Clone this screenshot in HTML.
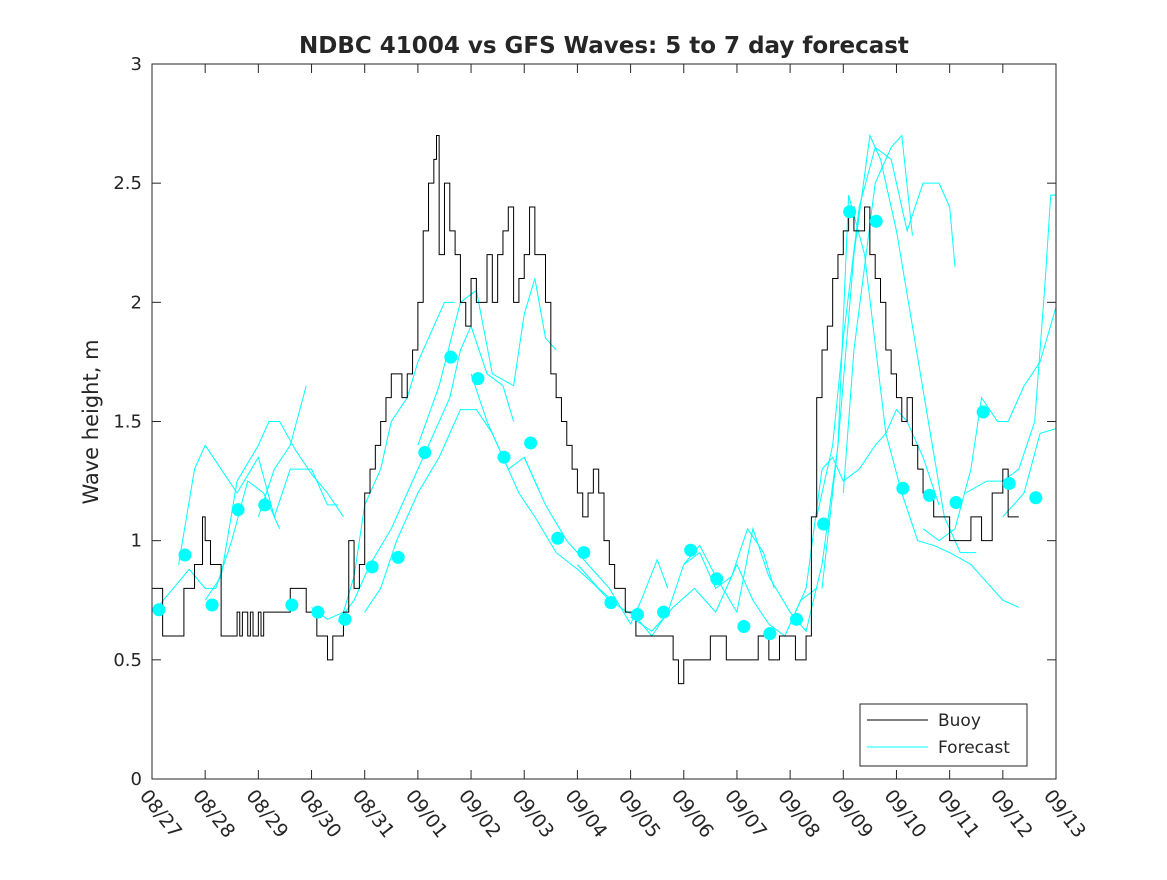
<!DOCTYPE html>
<html><head><meta charset="utf-8"><style>
body{margin:0;background:#fff}
svg text{font-family:"DejaVu Sans","Liberation Sans",sans-serif;fill:#262626}
</style></head><body>
<svg id="chart" width="1167" height="875" xmlns="http://www.w3.org/2000/svg">
<rect x="0" y="0" width="1167" height="875" fill="#fff"/>
<text x="604" y="53" text-anchor="middle" font-size="23" font-weight="bold" fill="#000">NDBC 41004 vs GFS Waves: 5 to 7 day forecast</text>
<text transform="translate(98,422) rotate(-90)" text-anchor="middle" font-size="21">Wave height, m</text>
<g id="grid"></g>
<g id="fc" fill="none" stroke="#00ffff" stroke-width="1"></g>
<g id="buoy"></g>
<g id="dots" fill="#00ffff"></g>
<rect x="152" y="64" width="904" height="715" fill="none" stroke="#262626" stroke-width="1"/>
<g>
<rect x="860" y="704" width="167" height="62" fill="#fff" stroke="#262626"/>
<line x1="867" y1="720" x2="928" y2="720" stroke="#000"/>
<text x="938" y="726" font-size="17">Buoy</text>
<line x1="867" y1="747" x2="928" y2="747" stroke="#00ffff"/>
<text x="938" y="753" font-size="17">Forecast</text>
</g>
</svg>
<script>
const xTicks=["08/27","08/28","08/29","08/30","08/31","09/01","09/02","09/03","09/04","09/05","09/06","09/07","09/08","09/09","09/10","09/11","09/12","09/13"];
const yTicks=[0,0.5,1,1.5,2,2.5,3];
const buoyDays=[0,0.2,0.5,0.6,0.8,0.95,1.0,1.1,1.2,1.3,1.5,1.6,1.65,1.7,1.8,1.85,1.9,2.0,2.05,2.1,2.2,2.5,2.6,2.8,2.9,3.0,3.1,3.2,3.3,3.4,3.5,3.6,3.7,3.8,3.9,4.0,4.1,4.2,4.3,4.4,4.5,4.6,4.7,4.8,4.9,5.0,5.1,5.2,5.3,5.35,5.4,5.5,5.6,5.7,5.8,5.9,6.0,6.1,6.2,6.3,6.4,6.5,6.6,6.7,6.8,6.9,7.0,7.1,7.2,7.3,7.4,7.5,7.6,7.7,7.8,7.9,8.0,8.1,8.2,8.3,8.4,8.5,8.6,8.7,8.8,8.9,9.0,9.1,9.3,9.5,9.7,9.8,9.9,10.0,10.2,10.5,10.6,10.8,11.0,11.2,11.4,11.6,11.8,12.0,12.1,12.2,12.3,12.4,12.5,12.6,12.7,12.8,12.9,13.0,13.1,13.2,13.3,13.4,13.5,13.6,13.7,13.8,13.9,14.0,14.1,14.2,14.3,14.4,14.5,14.6,14.7,14.9,15.0,15.2,15.4,15.6,15.8,16.0,16.1,16.2,16.3];
const buoyVals=[0.8,0.6,0.6,0.8,0.9,1.1,1.0,0.9,0.9,0.6,0.6,0.7,0.6,0.7,0.6,0.7,0.6,0.7,0.6,0.7,0.7,0.7,0.8,0.8,0.7,0.7,0.6,0.6,0.5,0.6,0.6,0.7,1.0,0.8,0.9,1.2,1.3,1.4,1.5,1.6,1.7,1.7,1.6,1.7,1.8,2.0,2.3,2.5,2.6,2.7,2.2,2.5,2.3,2.2,2.0,1.9,2.1,2.0,2.0,2.2,2.0,2.2,2.3,2.4,2.0,2.1,2.2,2.4,2.2,2.2,2.0,1.7,1.6,1.5,1.4,1.3,1.2,1.1,1.2,1.3,1.2,1.0,0.9,0.8,0.8,0.7,0.7,0.6,0.6,0.6,0.6,0.5,0.4,0.5,0.5,0.6,0.6,0.5,0.5,0.5,0.6,0.5,0.6,0.6,0.5,0.5,0.6,1.1,1.6,1.8,1.9,2.1,2.2,2.3,2.4,2.3,2.3,2.4,2.2,2.1,2.0,1.8,1.7,1.6,1.5,1.6,1.4,1.3,1.2,1.2,1.1,1.1,1.0,1.0,1.1,1.0,1.2,1.3,1.1,1.1,1.1];
const dotDays=[0.13,0.62,1.13,1.62,2.12,2.63,3.12,3.63,4.14,4.63,5.13,5.62,6.13,6.62,7.12,7.63,8.12,8.63,9.13,9.62,10.13,10.62,11.13,11.62,12.12,12.63,13.12,13.62,14.12,14.62,15.12,15.63,16.12,16.62];
const dotVals=[0.71,0.94,0.73,1.13,1.15,0.73,0.70,0.67,0.89,0.93,1.37,1.77,1.68,1.35,1.41,1.01,0.95,0.74,0.69,0.70,0.96,0.84,0.64,0.61,0.67,1.07,2.38,2.34,1.22,1.19,1.16,1.54,1.24,1.18];
const fcDays=[
[0.1,0.4,0.7,1.0,1.2,1.5,1.8,2.1,2.4],
[0.5,0.8,1.0,1.3,1.6,2.0,2.3,2.6,3.0,3.3,3.5],
[1.0,1.3,1.6,2.0,2.2,2.4,2.7,3.0,3.3,3.6],
[2.0,2.3,2.6,2.9],
[3.0,3.3,3.6,3.8,4.0,4.3,4.5,4.8,5.0,5.3,5.5,5.7],
[3.5,3.8,4.1,4.5,4.8,5.2,5.6,5.8,6.0,6.3,6.6,6.8],
[4.0,4.3,4.6,5.0,5.4,5.8,6.1,6.4,6.7,7.0,7.3],
[5.0,5.4,5.8,6.1,6.4,6.8,7.0,7.2,7.4,7.6],
[6.0,6.3,6.6,6.9,7.2,7.6,8.0,8.3,8.6],
[7.0,7.4,7.8,8.2,8.6,9.0,9.2,9.5,9.7],
[8.0,8.4,8.8,9.1,9.4,9.7,10.0,10.3,10.6,10.9,11.2,11.5,11.7],
[9.0,9.4,9.8,10.2,10.4,10.6,11.0,11.3,11.6,11.9,12.2,12.5],
[10.0,10.3,10.6,11.0,11.3,11.6,12.0,12.3,12.6,12.9,13.2,13.5,13.7,14.0,14.3,14.6,14.9,15.2,15.5],
[12.0,12.3,12.6,12.8,13.0,13.3,13.6,13.8,14.0,14.2,14.5,14.8],
[12.5,12.8,13.0,13.3,13.6,13.9,14.2,14.5,14.8,15.0,15.1],
[12.6,12.9,13.1,13.4,13.8,14.1,14.4,14.7,15.0,15.4,15.6,16.0,16.3],
[13.0,13.2,13.6,13.9,14.1,14.3],
[14.5,14.8,15.1,15.4,15.6,15.9,16.1,16.4,16.7,17.0],
[15.3,15.7,16.0,16.3,16.6,16.8,16.9,17.0],
[16.0,16.4,16.7,17.0]];
const fcVals=[
[0.72,0.8,0.88,0.8,0.8,1.0,1.25,1.2,1.05],
[0.9,1.3,1.4,1.3,1.2,1.35,1.1,1.3,1.3,1.15,1.15],
[0.75,0.85,1.25,1.4,1.5,1.5,1.38,1.28,1.2,1.1],
[1.1,1.3,1.4,1.65],
[0.72,0.67,0.7,0.85,1.15,1.3,1.5,1.6,1.75,1.9,2.0,2.0],
[0.66,0.75,0.9,1.05,1.2,1.4,1.6,1.8,1.9,1.7,1.65,1.5],
[0.7,0.8,1.0,1.2,1.35,1.55,1.55,1.45,1.3,1.35,1.2],
[1.4,1.65,2.0,2.05,1.7,1.65,1.95,2.1,1.85,1.8],
[1.7,1.5,1.35,1.2,1.1,0.95,0.88,0.82,0.75],
[1.35,1.15,1.0,0.9,0.8,0.65,0.75,0.92,0.8],
[0.9,0.8,0.72,0.68,0.6,0.7,0.9,0.95,0.8,0.85,1.05,0.95,0.8],
[0.68,0.62,0.72,0.8,0.75,0.7,0.9,0.75,0.65,0.6,0.75,0.8],
[0.9,0.98,0.85,0.7,1.05,0.85,0.7,0.62,0.9,1.4,2.2,2.7,2.6,2.3,1.9,1.5,1.1,0.95,0.95],
[0.65,0.8,1.3,1.35,1.25,1.3,1.4,1.45,1.55,1.5,1.35,1.15],
[1.1,1.4,1.85,2.4,2.65,2.6,2.3,2.5,2.5,2.4,2.15],
[0.8,1.4,2.45,2.2,1.45,1.2,1.0,0.98,0.95,0.9,0.85,0.75,0.72],
[1.2,1.8,2.5,2.65,2.7,2.28],
[1.05,1.0,1.05,1.3,1.6,1.5,1.5,1.65,1.75,1.98],
[1.2,1.25,1.25,1.3,1.5,2.1,2.45,2.45],
[1.1,1.2,1.45,1.47]];

const NS="http://www.w3.org/2000/svg";
const X0=152,X1=1056,Y0=779,Y1=64;
const xs=d=>X0+d*(X1-X0)/17;
const ys=v=>Y0-v*(Y0-Y1)/3;
function mk(tag,attrs,parent){const e=document.createElementNS(NS,tag);for(const k in attrs)e.setAttribute(k,attrs[k]);parent.appendChild(e);return e;}
const grid=document.getElementById('grid');
xTicks.forEach((t,i)=>{
  const x=xs(i);
  const l=mk('line',{x1:x,y1:Y0,x2:x,y2:Y0-9,stroke:'#262626'},grid);
  
  
  const l2=mk('line',{x1:x,y1:Y1,x2:x,y2:Y1+9,stroke:'#262626'},grid);
  
  
  const tx=mk('text',{x:0,y:0,'font-size':19,transform:`translate(${x-13},${796}) rotate(52)`},grid);
  tx.textContent=t;
  
  
});
yTicks.forEach(v=>{
  const y=ys(v);
  const l=mk('line',{x1:X0,y1:y,x2:X0+9,y2:y,stroke:'#262626'},grid);
  
  
  const l2=mk('line',{x1:X1,y1:y,x2:X1-9,y2:y,stroke:'#262626'},grid);
  
  
  const tx=mk('text',{x:X0-10,y:y+6,'font-size':18,'text-anchor':'end'},grid);
  tx.textContent=String(v);
  
  
});
const fc=document.getElementById('fc');
fcDays.forEach((ds,i)=>{
  const p=mk('polyline',{points:ds.map((d,j)=>xs(d)+','+ys(fcVals[i][j])).join(' ')},fc);
  
  
});
let pts=[];
buoyDays.forEach((d,i)=>{ if(i>0) pts.push(xs(d)+','+ys(buoyVals[i-1])); pts.push(xs(d)+','+ys(buoyVals[i])); });
const b=mk('polyline',{points:pts.join(' '),fill:'none',stroke:'#000','stroke-width':1},document.getElementById('buoy'));


const dots=document.getElementById('dots');
dotDays.forEach((d,i)=>{
  const c=mk('circle',{cx:xs(d),cy:ys(dotVals[i]),r:6.5},dots);
  
  
});
</script>
</body></html>
